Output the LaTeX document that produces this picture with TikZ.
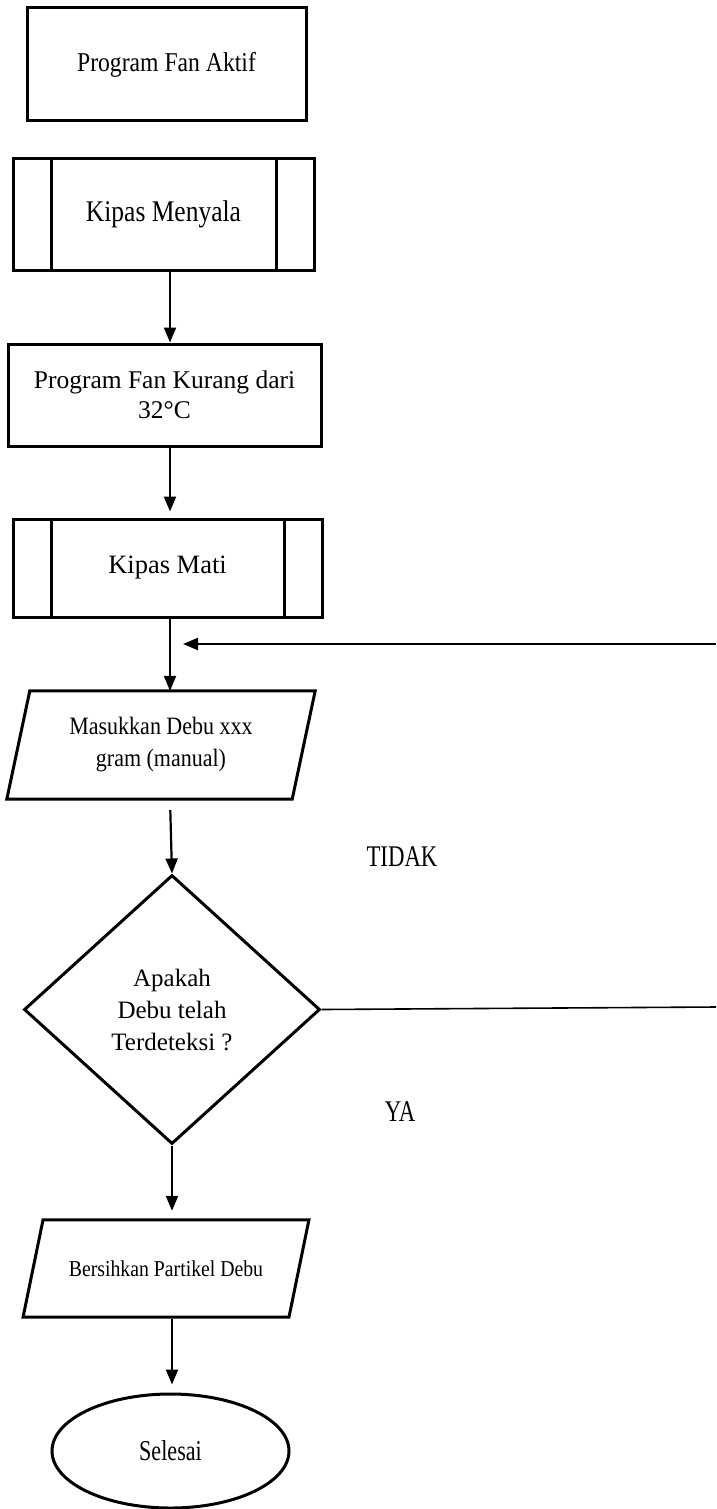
\documentclass[tikz,border=0pt]{standalone}
\usepackage{fontspec}
\setmainfont{Liberation Serif}
\usetikzlibrary{shapes,shapes.geometric,arrows.meta}

\newcommand{\boxfont}[3]{\fontsize{#1}{#2}\selectfont\addfontfeature{FakeStretch=#3}}

\begin{document}
\begin{tikzpicture}[x=1pt, y=-1pt, >={Triangle[length=15pt,width=12pt]},
      every node/.append style={font=\rmfamily,color=black,align=center,inner sep=0pt},
      link/.style={->,line width=2.2pt}]
    \tikzstyle{box} = [draw,line width=3pt]
    \tikzstyle{proc} = [box,path picture={
        \draw[line width=3pt] ([xshift=38pt]path picture bounding box.north west) -- ([xshift=38pt]path picture bounding box.south west)
          ([xshift=-38pt]path picture bounding box.north east) -- ([xshift=-38pt]path picture bounding box.south east);}]
    \useasboundingbox (0,0) rectangle (716,1509);
    \coordinate (axis) at (170,0);
    \coordinate (axisb) at (172,0);
    \node (aktif) [box,minimum width=279,minimum height=113,font=\boxfont{27.2}{32}{0.87}] at (166.5,64.5) {Program Fan Aktif};
    \node (nyala) [proc,minimum width=301,minimum height=112,font=\boxfont{30}{34}{0.85}] at (163.5,214) {Kipas Menyala};
    \node (kurang) [box,minimum width=313,minimum height=102,font=\boxfont{25.5}{30}{1.0}] at (164.5,395) {Program Fan Kurang dari\\32°C};
    \node (mati) [proc,minimum width=309,minimum height=98,font=\boxfont{26.5}{30}{1.0}] at (167.5,568) {Kipas Mati};
    \node (masuk) [minimum width=285,minimum height=108,font=\boxfont{25}{32}{0.88}] at (161,745) {Masukkan Debu xxx\\gram (manual)};
    \node (cek) [box,diamond,minimum width=296,minimum height=269,font=\boxfont{25}{32}{1.0}] at (172,1009.5) {Apakah\\Debu telah\\Terdeteksi ?};
    \node (bersih) [minimum width=265.5,minimum height=97,font=\boxfont{22.7}{26}{0.87}] at (166,1268.5) {Bersihkan Partikel Debu};
    \node (selesai) [box,ellipse,minimum width=237,minimum height=114,font=\boxfont{28.7}{32}{0.77}] at (170.5,1451) {Selesai};
    \node (tidak) [font=\boxfont{30}{34}{0.76}] at (402,857) {TIDAK};
    \node (ya) [font=\boxfont{30}{34}{0.76}] at (400,1112) {YA};
    \foreach \n/\s in {masuk/11.5, bersih/10}
      \draw [box] ([xshift=\s pt]\n.north west) -- ([xshift=\s pt]\n.north east)
        -- ([xshift=-\s pt]\n.south east) -- ([xshift=-\s pt]\n.south west) -- cycle;
    \coordinate (tidakend) at (716,1007);
    \coordinate (back) at (716,644);
    \coordinate (backend) at (183,644);
    \draw [link] (nyala.south -| axis) -- (kurang.north -| axis);
    \draw [link,shorten >=6pt] (kurang.south -| axis) -- (mati.north -| axis);
    \draw [link] (mati.south -| axis) -- (masuk.north -| axis);
    \draw [link] (back) -- (backend);
    \draw [link,shorten <=11pt] (masuk.south -| axis) -- (cek.north);
    \draw [line width=1.6pt] (cek.east) -- (tidakend);
    \draw [link,shorten >=9pt] (cek.south) -- (bersih.north -| axisb);
    \draw [link,shorten <=2pt,shorten >=8pt] (bersih.south -| axisb) -- (selesai.north -| axisb);
  \end{tikzpicture}
\end{document}
